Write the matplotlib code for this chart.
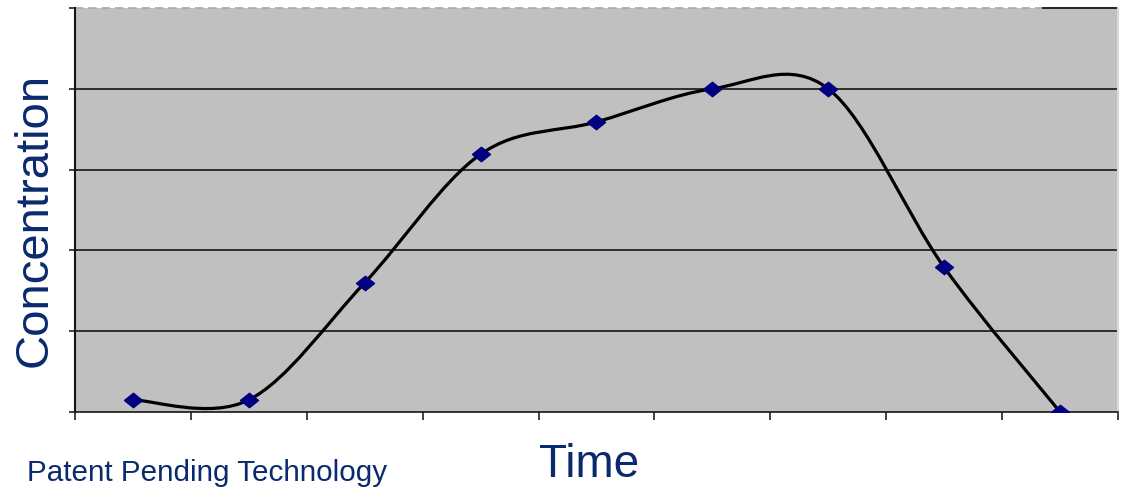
import matplotlib
matplotlib.use("Agg")
import matplotlib.pyplot as plt
from matplotlib.path import Path
from matplotlib.patches import PathPatch

plt.rcParams['font.family'] = ['Liberation Sans', 'DejaVu Sans']

# data (y in grid units, 5 units tall)
time_points = [1, 2, 3, 4, 5, 6, 7, 8, 9]
concentration = [0.15, 0.15, 1.60, 3.19, 3.59, 4.0, 4.0, 1.79, 0.0]
y_grid = [0, 1, 2, 3, 4, 5]
x_edges = [0.5, 1.5, 2.5, 3.5, 4.5, 5.5, 6.5, 7.5, 8.5, 9.5]

navy_text = "#0a2a6e"
marker_col = "#000080"

fig = plt.figure(figsize=(11.26, 4.87), dpi=100)
ax = fig.add_axes([0.0666, 0.154, 0.9263, 0.8296])
ax.set_facecolor("#c0c0c0")
ax.set_xlim(0.5, 9.5)
ax.set_ylim(0, 5)

# horizontal gridlines
for g in y_grid[1:-1]:
    ax.axhline(g, color="#151515", lw=1.2, zorder=1)

# smoothed line (excel-like bezier through the points)
def smooth_path(xs, ys):
    pts = list(zip(xs, ys))
    n = len(pts)
    verts = [pts[0]]
    codes = [Path.MOVETO]
    for i in range(n - 1):
        p0 = pts[i - 1] if i > 0 else pts[i]
        p1 = pts[i]
        p2 = pts[i + 1]
        p3 = pts[i + 2] if i + 2 < n else pts[i + 1]
        c1 = (p1[0] + (p2[0] - p0[0]) / 6, p1[1] + (p2[1] - p0[1]) / 6)
        c2 = (p2[0] - (p3[0] - p1[0]) / 6, p2[1] - (p3[1] - p1[1]) / 6)
        verts += [c1, c2, p2]
        codes += [Path.CURVE4] * 3
    return Path(verts, codes)

curve = PathPatch(smooth_path(time_points, concentration), facecolor="none",
                  edgecolor="black", lw=2.3, zorder=3, capstyle="round")
ax.add_patch(curve)

diamond = [(-1, 0), (0, 0.8), (1, 0), (0, -0.8), (-1, 0)]
ax.plot(time_points, concentration, linestyle="none", marker=diamond,
        markersize=13, color=marker_col, zorder=4)

# axes decoration
ax.set_xticks(x_edges)
ax.set_yticks(y_grid)
ax.set_xticklabels([])
ax.set_yticklabels([])
ax.tick_params(axis="x", direction="out", length=6, width=1.2, color="#222222")
ax.tick_params(axis="y", direction="out", length=4, width=1.2, color="#222222")
ax.spines["left"].set_color("#151515")
ax.spines["left"].set_linewidth(1.5)
ax.spines["bottom"].set_color("#151515")
ax.spines["bottom"].set_linewidth(1.2)
ax.spines["right"].set_color("#dadada")
ax.spines["right"].set_linewidth(1.5)
ax.spines["top"].set_visible(False)
ax.axhline(5, xmin=0, xmax=0.928, color="#a8a8a8", lw=1.2, ls=(0, (5, 3)),
           clip_on=False, zorder=2)
ax.axhline(5, xmin=0.928, xmax=1, color="#222222", lw=1.4,
           clip_on=False, zorder=2)

fig.text(0.031, 0.548, "Concentration", fontsize=34, color=navy_text,
         rotation=90, ha="center", va="center")
fig.text(0.523, 0.02, "Time", fontsize=33, color=navy_text, ha="center")
fig.text(0.024, 0.013, "Patent Pending Technology", fontsize=21.3, color=navy_text)

fig.savefig("out.png", dpi=100)
